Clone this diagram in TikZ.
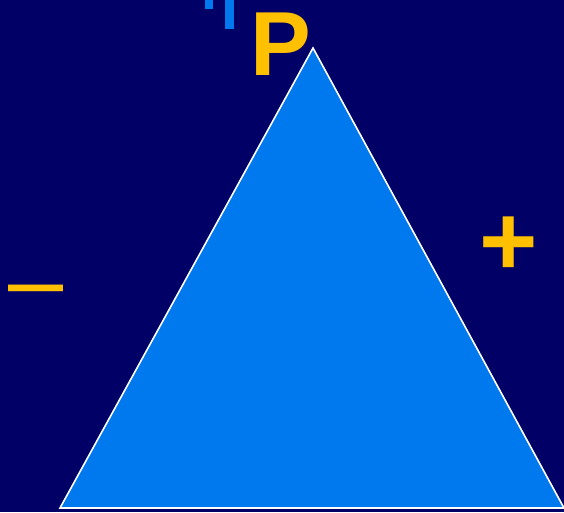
\documentclass[tikz,border=0pt]{standalone}
\usepackage{fontspec}
\setmainfont{Liberation Sans}
\definecolor{bgnavy}{HTML}{000066}
\definecolor{triblue}{HTML}{0078EE}
\definecolor{signyellow}{HTML}{FFC000}
\begin{document}
\begin{tikzpicture}[x=1pt,y=-1pt,
  sign/.style={inner sep=0pt,outer sep=0pt,text=signyellow}]
\fill[bgnavy] (0,0) rectangle (564,512);
\useasboundingbox (0,0) rectangle (564,512);
\coordinate (apex) at (313,48);
\coordinate (bl) at (60,508);
\coordinate (br) at (564,508);
\filldraw[fill=triblue,draw=white,line width=1.6pt,line join=miter] (apex) -- (bl) -- (br) -- cycle;
\fill[triblue] (205,0) rectangle (213,9);
\fill[triblue] (225,0) rectangle (234,29);
\node[sign,anchor=base west,font=\fontsize{91}{91}\selectfont\bfseries] (P) at (250,75) {P};
\node[sign,anchor=center,font=\fontsize{100}{100}\selectfont\bfseries] (plus) at (509,246.5) {+};
\node[sign,anchor=base west,font=\fontsize{99}{99}\selectfont] (minus) at (9,313) {–};
\end{tikzpicture}
\end{document}
